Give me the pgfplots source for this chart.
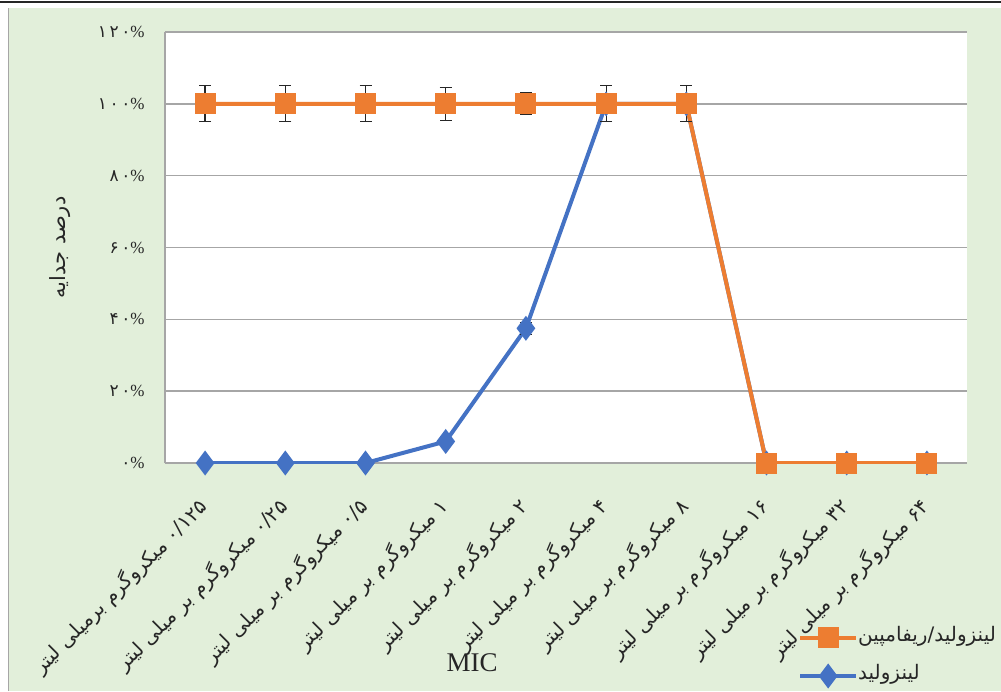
\documentclass[border=0pt]{standalone}
\usepackage{pgfplots}
\pgfplotsset{compat=1.18}
\usepackage{fontspec}
\setmainfont{Liberation Serif}
\newfontfamily\arabicfont[Script=Arabic]{DejaVu Sans}
\newfontfamily\digitfont[LetterSpace=15]{DejaVu Sans}
\TeXXeTstate=1
\newcommand{\fd}[1]{{\digitfont #1}}
\definecolor{bggreen}{HTML}{E2EFDA}
\definecolor{xlorange}{HTML}{ED7D31}
\definecolor{xlblue}{HTML}{4472C4}
\definecolor{gridgray}{HTML}{A6A6A6}
\definecolor{txt}{HTML}{262626}
\begin{document}
\begin{tikzpicture}
\path[use as bounding box] (-82.5pt,-114pt) rectangle (418pt,231.5pt);
\fill[white] (-82.5pt,-114pt) rectangle (418pt,231.5pt);
\fill[bggreen] (-78pt,-114pt) rectangle (418pt,227.5pt);
\draw[black!85, line width=1.2pt] (-82.5pt,230.6pt) -- (418pt,230.6pt);
\draw[gray!70, line width=0.7pt] (-78.2pt,-114pt) -- (-78.2pt,227.5pt);
\begin{axis}[
  at={(0,0)}, anchor=south west,
  scale only axis, width=401pt, height=215.5pt,
  xmin=-0.5, xmax=9.5, ymin=0, ymax=120,
  axis background/.style={fill=white},
  axis lines*=left,
  axis line style={draw=gridgray, line width=0.75pt, -},
  ymajorgrids, grid style={draw=gridgray, line width=0.75pt},
  major tick length=0pt,
  ytick={0,20,40,60,80,100,120},
  yticklabels={{\fd{۰}\%},{\fd{۲۰}\%},{\fd{۴۰}\%},{\fd{۶۰}\%},{\fd{۸۰}\%},{\fd{۱۰۰}\%},{\fd{۱۲۰}\%}},
  yticklabel style={font=\fontsize{8.5}{9}\selectfont, text=txt, anchor=east, inner sep=0pt, xshift=-10pt},
  xtick={0,1,2,3,4,5,6,7,8,9},
  xticklabels={
    {\arabicfont\beginR ۰/۱۲۵ میکروگرم برمیلی لیتر\endR},
    {\arabicfont\beginR ۰/۲۵ میکروگرم بر میلی لیتر\endR},
    {\arabicfont\beginR ۰/۵ میکروگرم بر میلی لیتر\endR},
    {\arabicfont\beginR ۱ میکروگرم بر میلی لیتر\endR},
    {\arabicfont\beginR ۲ میکروگرم بر میلی لیتر\endR},
    {\arabicfont\beginR ۴ میکروگرم بر میلی لیتر\endR},
    {\arabicfont\beginR ۸ میکروگرم بر میلی لیتر\endR},
    {\arabicfont\beginR ۱۶ میکروگرم بر میلی لیتر\endR},
    {\arabicfont\beginR ۳۲ میکروگرم بر میلی لیتر\endR},
    {\arabicfont\beginR ۶۴ میکروگرم بر میلی لیتر\endR}},
  xticklabel style={font=\fontsize{10}{11}\selectfont, text=txt, inner sep=0pt, xshift=-0.5pt, yshift=-20pt, rotate=45, anchor=east},
  ylabel={\arabicfont\beginR درصد جدایه\endR},
  ylabel style={at={(axis description cs:-0.131,0.5)}, anchor=center, font=\fontsize{10.5}{12}\selectfont, text=txt},
  xlabel={MIC},
  xlabel style={at={(axis description cs:0.383,-0.464)}, anchor=center, font=\fontsize{13.5}{15}\selectfont, text=txt},
  reverse legend,
  legend style={at={(axis description cs:0.789,-0.383)}, anchor=north west, draw=none, fill=none, inner sep=0pt,
    font=\fontsize{10}{11}\selectfont, text=txt, row sep=9.5pt,
    nodes={inner sep=0pt, text height=6.5pt, text depth=3pt}},
  legend cell align=left,
  /tikz/every even column/.append style={column sep=4pt},
  legend image code/.code={
    \draw[#1, mark repeat=2, mark phase=2] plot coordinates {(0pt,0pt) (14pt,0pt) (28pt,0pt)};
  },
  error bars/error bar style={black!85, line width=0.6pt},
  error bars/error mark options={black!85, line width=0.6pt, mark size=3pt, rotate=90},
]
\addplot[xlblue, line width=2pt, mark=diamond*, mark size=4.6pt,
  error bars/.cd, y dir=both, y explicit]
  coordinates {
    (0,0) +- (0,0)
    (1,0) +- (0,0)
    (2,0) +- (0,0)
    (3,6) +- (0,0)
    (4,37.5) +- (0,1.7)
    (5,100) +- (0,0)
    (6,100) +- (0,0)
    (7,0) +- (0,0)
    (8,0) +- (0,0)
    (9,0) +- (0,0)
  };
\addlegendentry{\arabicfont\beginR لینزولید\endR}
\addplot[xlorange, line width=2pt, mark=square*, mark size=4.25pt,
  error bars/.cd, y dir=both, y explicit]
  coordinates {
    (0,100) +- (0,5)
    (1,100) +- (0,5)
    (2,100) +- (0,5)
    (3,100) +- (0,4.6)
    (4,100) +- (0,3)
    (5,100) +- (0,5)
    (6,100) +- (0,5)
    (7,0) +- (0,0)
    (8,0) +- (0,0)
    (9,0) +- (0,0)
  };
\addlegendentry{\arabicfont\beginR لینزولید/ریفامپین\endR}
\end{axis}
\end{tikzpicture}
\end{document}
